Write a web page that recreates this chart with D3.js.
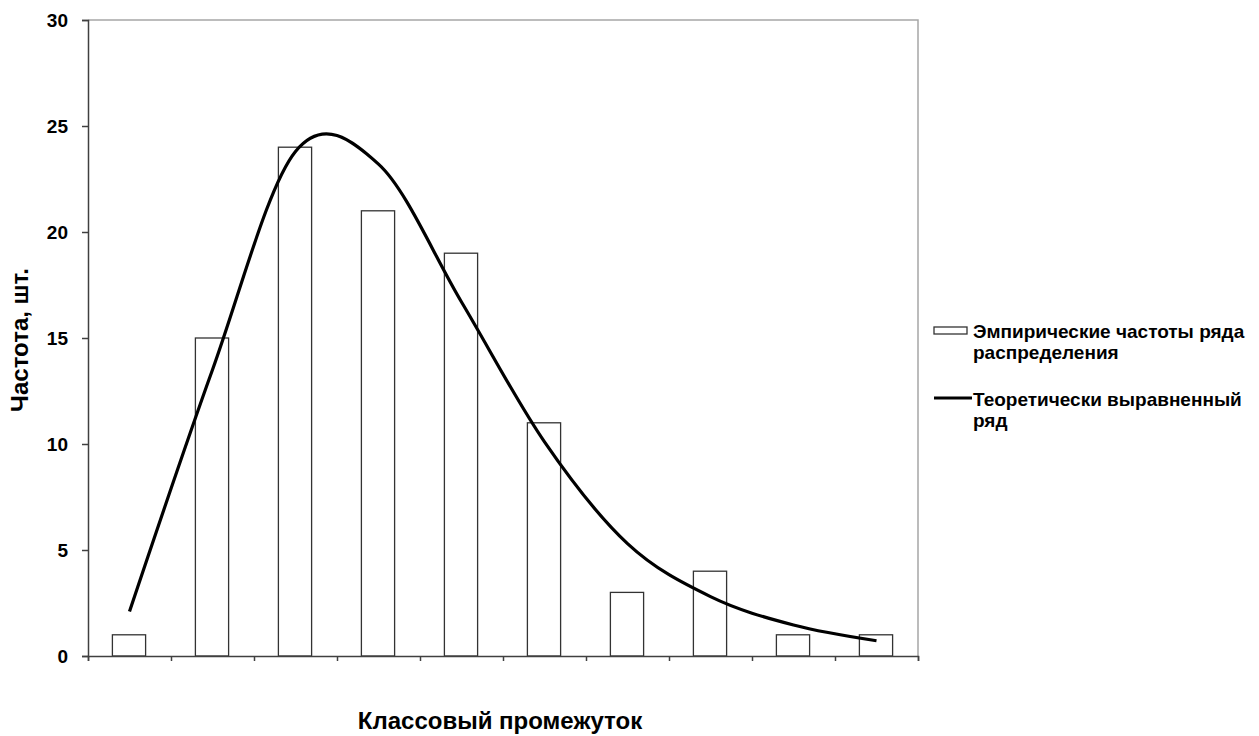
<!DOCTYPE html>
<html>
<head>
<meta charset="utf-8">
<script src="https://cdn.jsdelivr.net/npm/d3@7"></script>
<style>
  body { margin: 0; background: #fff; }
  text { font-family: "Liberation Sans", Arial, sans-serif; font-weight: bold; fill: #000; }
</style>
</head>
<body>
<div id="chart"></div>
<script>
// class intervals (no labels shown on the axis)
const classes = ["1", "2", "3", "4", "5", "6", "7", "8", "9", "10"];
// empirical frequencies
const empirical = [1, 15, 24, 21, 19, 11, 3, 4, 1, 1];
// theoretically fitted series
const theoretical = [2.1, 13.5, 23.8, 23.2, 16.7, 10.1, 5.3, 2.8, 1.46, 0.72];
const yTicks = [0, 5, 10, 15, 20, 25, 30];

const width = 1259;
const height = 736;
const plot = { left: 88, right: 918, top: 20, bottom: 656 };

const svg = d3.select("#chart")
  .append("svg")
  .attr("width", width)
  .attr("height", height);

const x = d3.scaleBand()
  .domain(classes)
  .range([plot.left, plot.right]);

const xEdges = d3.scaleLinear()
  .domain([0, classes.length])
  .range([plot.left, plot.right]);

const y = d3.scaleLinear()
  .domain([0, 30])
  .range([plot.bottom, plot.top]);

// plot frame (top and right in light grey)
svg.append("path")
  .attr("d", `M${plot.left},${plot.top}H${plot.right}V${plot.bottom}`)
  .attr("fill", "none")
  .attr("stroke", "#a6a6a6")
  .attr("stroke-width", 1.5);

// bars
const barW = x.bandwidth() * 0.4;
svg.append("g")
  .selectAll("rect")
  .data(empirical)
  .join("rect")
  .attr("x", (d, i) => x(classes[i]) + x.bandwidth() / 2 - barW / 2 - 0.5)
  .attr("y", d => y(d))
  .attr("width", barW)
  .attr("height", d => y(0) - y(d))
  .attr("fill", "#fff")
  .attr("stroke", "#333")
  .attr("stroke-width", 1.3);

// y axis
const yAxis = svg.append("g")
  .attr("transform", `translate(${plot.left},0)`)
  .call(d3.axisLeft(y).tickValues(yTicks).tickSize(6).tickPadding(14));
yAxis.selectAll("path, line").attr("stroke", "#404040").attr("stroke-width", 1.5);
yAxis.selectAll("text")
  .style("font-size", "19px")
  .style("font-family", "'Liberation Sans', Arial, sans-serif")
  .style("font-weight", "bold")
  .attr("fill", "#000");

// x axis: ticks at class boundaries, no labels
const xAxis = svg.append("g")
  .attr("transform", `translate(0,${plot.bottom})`)
  .call(d3.axisBottom(xEdges).ticks(classes.length).tickSize(5).tickFormat(""));
xAxis.selectAll("path, line").attr("stroke", "#404040").attr("stroke-width", 1.5);

// theoretical smooth line
const line = d3.line()
  .x((d, i) => x(classes[i]) + x.bandwidth() / 2)
  .y(d => y(d))
  .curve(d3.curveCardinal.tension(0));

svg.append("path")
  .datum(theoretical)
  .attr("d", line)
  .attr("fill", "none")
  .attr("stroke", "#000")
  .attr("stroke-width", 3.2);

// axis titles
svg.append("text")
  .attr("transform", "translate(28,340) rotate(-90)")
  .attr("text-anchor", "middle")
  .style("font-size", "24px")
  .text("Частота, шт.");

svg.append("text")
  .attr("x", 500)
  .attr("y", 729)
  .attr("text-anchor", "middle")
  .style("font-size", "24px")
  .text("Классовый промежуток");

// legend
const legend = svg.append("g");
legend.append("rect")
  .attr("x", 934).attr("y", 327)
  .attr("width", 33).attr("height", 7)
  .attr("fill", "#fff").attr("stroke", "#333").attr("stroke-width", 1.3);
legend.append("line")
  .attr("x1", 934).attr("x2", 972)
  .attr("y1", 398).attr("y2", 398)
  .attr("stroke", "#000").attr("stroke-width", 3);

const legendLines = [
  ["Эмпирические частоты ряда", 338],
  ["распределения", 359],
  ["Теоретически выравненный", 406],
  ["ряд", 427]
];
legend.selectAll("text.lg")
  .data(legendLines)
  .join("text")
  .attr("class", "lg")
  .attr("x", 973)
  .attr("y", d => d[1])
  .style("font-size", "19px")
  .text(d => d[0]);
</script>
</body>
</html>
